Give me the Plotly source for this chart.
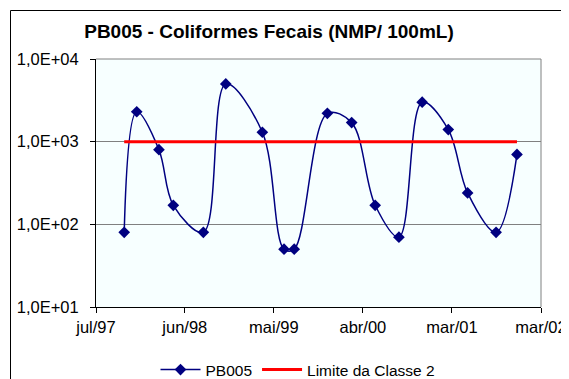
import plotly.graph_objects as go
from datetime import date, timedelta

dates = ["1997-10-17", "1997-12-04", "1998-02-27", "1998-04-23", "1998-08-16",
         "1998-11-10", "1999-03-30", "1999-06-21", "1999-07-30", "1999-12-04",
         "2000-03-06", "2000-06-04", "2000-09-03", "2000-12-01", "2001-03-11",
         "2001-05-24", "2001-09-10", "2001-11-29"]
pb005 = [80, 2300, 800, 170, 80, 5000, 1300, 50, 50, 2200,
         1700, 170, 70, 3000, 1400, 240, 80, 700]
limite = [1000] * len(dates)

x_tick_labels = ["jul/97", "jun/98", "mai/99", "abr/00", "mar/01", "mar/02"]
y_tick_vals = [10, 100, 1000, 10000]
y_tick_labels = ["1,0E+01", "1,0E+02", "1,0E+03", "1,0E+04"]

x_start = date(1997, 7, 1)
x_end = date(2002, 3, 1)
span = (x_end - x_start).days
n = len(x_tick_labels) - 1
x_tick_vals = [(x_start + timedelta(days=span * k / n)).isoformat() for k in range(n + 1)]

FONT = "Liberation Sans, Arial, sans-serif"

# page has an 8px body margin; figure coordinates = page coordinates - 8
L, R, T, B = 88, 533, 51, 299
W, H = 569, 379

fig = go.Figure()
fig.add_trace(go.Scatter(
    x=dates, y=pb005, name="PB005", mode="lines+markers",
    line=dict(color="#000080", width=1.5, shape="spline", smoothing=1.0),
    marker=dict(symbol="diamond", size=9, color="#000080"),
))
fig.add_trace(go.Scatter(
    x=[dates[0], dates[-1]], y=[limite[0], limite[-1]], name="Limite da Classe 2",
    mode="lines", line=dict(color="#FF0000", width=3),
))

pw = R - L
ph = B - T
fig.update_layout(
    width=W, height=H,
    margin=dict(l=L, r=W - R, t=T, b=H - B, autoexpand=False),
    paper_bgcolor="white",
    plot_bgcolor="#F7FFFF",
    font=dict(family=FONT, color="black"),
    title=dict(text="<b>PB005 - Coliformes Fecais (NMP/ 100mL)</b>",
               x=(269 - 8) / W, xanchor="center", y=1 - (31 - 8) / H, yanchor="middle",
               font=dict(size=19, family=FONT, color="black")),
    showlegend=True,
    legend=dict(orientation="h", xref="container", yref="container",
                x=(298 - 8) / W, xanchor="center",
                y=1 - (370 - 8) / H, yanchor="middle",
                font=dict(size=15.5, family=FONT), bgcolor="rgba(0,0,0,0)",
                itemwidth=40, tracegroupgap=0),
    xaxis=dict(type="date", range=[x_start.isoformat(), x_end.isoformat()],
               tickvals=x_tick_vals, ticktext=x_tick_labels,
               showgrid=False, showline=True, linecolor="black", linewidth=1,
               ticks="outside", ticklen=5, tickcolor="black",
               tickfont=dict(size=16.5, family=FONT), zeroline=False,
               automargin=False),
    yaxis=dict(type="log", range=[1, 4], tickvals=y_tick_vals, ticktext=y_tick_labels,
               showgrid=True, gridcolor="#808080", gridwidth=1,
               showline=True, linecolor="black", linewidth=1,
               ticks="outside", ticklen=5, tickcolor="black",
               tickfont=dict(size=16.5, family=FONT), zeroline=False,
               ticklabelstandoff=8, automargin=False),
)

bx = (2.5 - L) / pw
by = 1 + (T - 2.5) / ph
fig.add_shape(type="line", xref="paper", yref="paper", x0=bx, x1=bx, y0=-0.5, y1=by,
              line=dict(color="black", width=1))
fig.add_shape(type="line", xref="paper", yref="paper", x0=bx, x1=1.2, y0=by, y1=by,
              line=dict(color="black", width=1))
fig.add_shape(type="line", xref="paper", yref="paper", x0=1, x1=1, y0=0, y1=1,
              line=dict(color="#808080", width=1), layer="below")
fig.add_shape(type="line", xref="paper", yref="paper", x0=0, x1=1, y0=1, y1=1,
              line=dict(color="#808080", width=1), layer="below")

fig.write_html("out.html")
